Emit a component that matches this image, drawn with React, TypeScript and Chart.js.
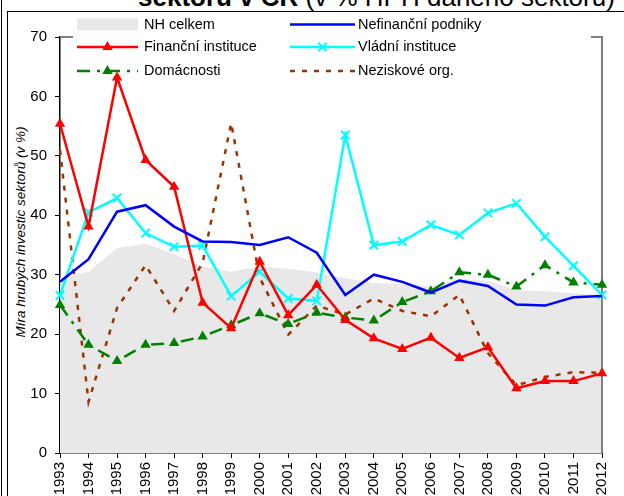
import React, { useEffect, useRef } from "react";
import { Chart, registerables } from "chart.js";

Chart.register(...registerables);

const years = ["1993","1994","1995","1996","1997","1998","1999","2000","2001","2002","2003","2004","2005","2006","2007","2008","2009","2010","2011","2012"];
const nhCelkem = [29.5, 30.5, 34.5, 35.2, 33.5, 31.4, 30.5, 31.4, 31.0, 30.4, 29.4, 28.6, 28.4, 28.0, 29.3, 29.0, 27.4, 27.2, 26.9, 26.6];
const nefinancni = [28.8, 32.6, 40.6, 41.7, 38.1, 35.6, 35.5, 35.0, 36.3, 33.7, 26.6, 30.0, 28.8, 27.0, 29.0, 28.1, 25.0, 24.8, 26.2, 26.4];
const financni = [55.4, 38.1, 63.2, 49.3, 44.8, 25.3, 21.0, 32.2, 23.2, 28.3, 22.4, 19.3, 17.5, 19.4, 16.0, 17.8, 10.9, 12.1, 12.1, 13.4];
const vladni = [26.5, 40.5, 42.9, 37.0, 34.7, 34.9, 26.4, 30.5, 26.0, 25.6, 53.5, 35.0, 35.6, 38.4, 36.7, 40.4, 42.0, 36.4, 31.5, 26.6];
const domacnosti = [24.9, 18.2, 15.5, 18.2, 18.5, 19.6, 21.5, 23.5, 21.7, 23.6, 22.8, 22.3, 25.4, 27.2, 30.4, 30.0, 28.0, 31.6, 28.7, 28.3];
const neziskove = [51.0, 8.6, 24.4, 31.6, 23.9, 32.0, 55.5, 29.5, 19.9, 24.8, 23.3, 26.0, 23.9, 23.0, 26.6, 16.8, 11.4, 12.8, 13.6, 13.5];

const FONT = '"Liberation Sans", Arial, Helvetica, sans-serif';
const GREEN_DASH = [13, 7, 3, 7];
const BROWN_DASH = [5, 7];

function triangle(ctx: CanvasRenderingContext2D, x: number, y: number, r: number, color: string) {
  let rad = 0;
  const step = (2 * Math.PI) / 3;
  ctx.beginPath();
  ctx.moveTo(x + Math.sin(rad) * r, y - Math.cos(rad) * r);
  rad += step;
  ctx.lineTo(x + Math.sin(rad) * r, y - Math.cos(rad) * r);
  rad += step;
  ctx.lineTo(x + Math.sin(rad) * r, y - Math.cos(rad) * r);
  ctx.closePath();
  ctx.fillStyle = color;
  ctx.strokeStyle = color;
  ctx.lineWidth = 1.5;
  ctx.setLineDash([]);
  ctx.fill();
  ctx.stroke();
}

function crossRot(ctx: CanvasRenderingContext2D, x: number, y: number, r: number, color: string) {
  const o = r * Math.cos(Math.PI / 4);
  ctx.beginPath();
  ctx.moveTo(x - o, y - o);
  ctx.lineTo(x + o, y + o);
  ctx.moveTo(x + o, y - o);
  ctx.lineTo(x - o, y + o);
  ctx.strokeStyle = color;
  ctx.lineWidth = 2;
  ctx.setLineDash([]);
  ctx.stroke();
}

const AREA_INDEX = 5;

const decor = {
  id: "decor",
  afterDatasetDraw(chart: any, args: any) {
    if (args.index !== AREA_INDEX) return;
    const { ctx, chartArea: a } = chart;
    ctx.save();
    ctx.strokeStyle = "#808080";
    ctx.lineWidth = 2;
    ctx.beginPath();
    ctx.moveTo(a.left, a.top);
    ctx.lineTo(a.right, a.top);
    ctx.lineTo(a.right, a.bottom);
    ctx.stroke();
    ctx.fillStyle = "#ffffff";
    ctx.fillRect(73, 14, 518, 60);
    ctx.restore();
  },
  afterDraw(chart: any) {
    const ctx: CanvasRenderingContext2D = chart.ctx;
    ctx.save();
    ctx.font = `14.5px ${FONT}`;
    ctx.textBaseline = "middle";
    ctx.textAlign = "left";
    const c1 = 77, c1e = 138, t1 = 144;
    const c2 = 290, c2e = 355, t2 = 358;
    const r1 = 24.5, r2 = 47, r3 = 71;
    const line = (x0: number, x1: number, y: number, color: string, w: number, dash: number[]) => {
      ctx.beginPath();
      ctx.setLineDash(dash);
      ctx.strokeStyle = color;
      ctx.lineWidth = w;
      ctx.moveTo(x0, y);
      ctx.lineTo(x1, y);
      ctx.stroke();
      ctx.setLineDash([]);
    };
    ctx.fillStyle = "#e8e8e8";
    ctx.fillRect(c1, r1 - 6, c1e - c1, 12);
    line(c2, c2e, r1, "#0000ff", 2.5, []);
    line(c1, c1e, r2, "#ff0000", 2.5, []);
    triangle(ctx, (c1 + c1e) / 2, r2, 4.5, "#ff0000");
    line(c2, c2e, r2, "#00ffff", 2.5, []);
    crossRot(ctx, (c2 + c2e) / 2, r2, 6, "#00ffff");
    line(c1, c1e, r3, "#008000", 2.5, GREEN_DASH);
    triangle(ctx, (c1 + c1e) / 2, r3, 4.5, "#008000");
    line(c2, c2e, r3, "#993300", 2.5, BROWN_DASH);
    ctx.fillStyle = "#000000";
    ctx.fillText("NH celkem", t1, r1);
    ctx.fillText("Nefinanční podniky", t2, r1);
    ctx.fillText("Finanční instituce", t1, r2);
    ctx.fillText("Vládní instituce", t2, r2);
    ctx.fillText("Domácnosti", t1, r3);
    ctx.fillText("Neziskové org.", t2, r3);
    ctx.restore();
  },
};

export default function App() {
  const ref = useRef<HTMLCanvasElement | null>(null);

  useEffect(() => {
    if (!ref.current) return;
    const tickFont = { family: FONT, size: 15 };
    const chart = new Chart(ref.current, {
      type: "line",
      data: {
        labels: years,
        datasets: [
          {
            label: "Nefinanční podniky",
            data: nefinancni,
            borderColor: "#0000ff",
            backgroundColor: "#0000ff",
            borderWidth: 2.5,
            pointRadius: 0,
            fill: false,
            tension: 0,
          },
          {
            label: "Finanční instituce",
            data: financni,
            borderColor: "#ff0000",
            backgroundColor: "#ff0000",
            borderWidth: 2.5,
            pointStyle: "triangle",
            pointRadius: 4.5,
            pointBorderWidth: 1.5,
            fill: false,
            tension: 0,
          },
          {
            label: "Vládní instituce",
            data: vladni,
            borderColor: "#00ffff",
            backgroundColor: "#00ffff",
            borderWidth: 2.5,
            pointStyle: "crossRot",
            pointRadius: 6,
            pointBorderWidth: 2,
            fill: false,
            tension: 0,
          },
          {
            label: "Domácnosti",
            data: domacnosti,
            borderColor: "#008000",
            backgroundColor: "#008000",
            borderWidth: 2.5,
            borderDash: GREEN_DASH,
            pointStyle: "triangle",
            pointRadius: 4.5,
            pointBorderWidth: 1.5,
            fill: false,
            tension: 0,
          },
          {
            label: "Neziskové org.",
            data: neziskove,
            borderColor: "#993300",
            backgroundColor: "#993300",
            borderWidth: 2.5,
            borderDash: BROWN_DASH,
            pointRadius: 0,
            fill: false,
            tension: 0,
          },
          {
            label: "NH celkem",
            data: nhCelkem,
            borderColor: "rgba(0,0,0,0)",
            backgroundColor: "#e8e8e8",
            borderWidth: 0,
            pointRadius: 0,
            fill: "origin",
            tension: 0,
          },
        ],
      },
      options: {
        animation: false,
        responsive: false,
        maintainAspectRatio: false,
        layout: { padding: { left: 0, top: 37, right: 7, bottom: 0 } },
        plugins: {
          legend: { display: false },
          tooltip: { enabled: false },
          title: { display: false },
        },
        scales: {
          x: {
            offset: false,
            grid: { display: true, drawOnChartArea: false, drawTicks: true, tickLength: 5, color: "#000000", offset: false },
            border: { display: true, color: "#000000", width: 1.5 },
            ticks: { autoSkip: false, minRotation: 90, maxRotation: 90, padding: 4, color: "#000000", font: tickFont },
            afterFit: (s: any) => { s.height = 87; },
          },
          y: {
            min: 0,
            max: 70,
            ticks: { stepSize: 10, padding: 8, color: "#000000", font: tickFont },
            grid: { display: true, drawOnChartArea: false, drawTicks: true, tickLength: 5, color: "#000000" },
            border: { display: true, color: "#000000", width: 1.5 },
            afterFit: (s: any) => { s.width = 60; },
          },
        },
      },
      plugins: [decor],
    });
    return () => chart.destroy();
  }, []);

  return (
    <div style={{ position: "fixed", left: 0, top: 0, width: 624, height: 496, overflow: "hidden", background: "#ffffff" }}>
      <div style={{ position: "absolute", left: 1, top: 0, width: 1, height: 496, background: "#000" }} />
      <div style={{ position: "absolute", left: 7, top: 11, width: 700, height: 600, borderLeft: "1px solid #000", borderTop: "1px solid #000" }} />
      <div style={{ position: "absolute", left: 138, top: -16, fontFamily: FONT, fontSize: 26, lineHeight: "26px", whiteSpace: "nowrap", color: "#000" }}>
        <b>sektorů v ČR</b> (v % HPH daného sektoru)
      </div>
      <div style={{ position: "absolute", left: 20, top: 232, transform: "translate(-50%, -50%) rotate(-90deg)", fontFamily: FONT, fontStyle: "italic", fontSize: 13.5, whiteSpace: "nowrap", color: "#000" }}>
        Míra hrubých investic sektorů (v %)
      </div>
      <canvas ref={ref} width={624} height={540} style={{ position: "absolute", left: 0, top: 0, width: 624, height: 540 }} />
    </div>
  );
}
